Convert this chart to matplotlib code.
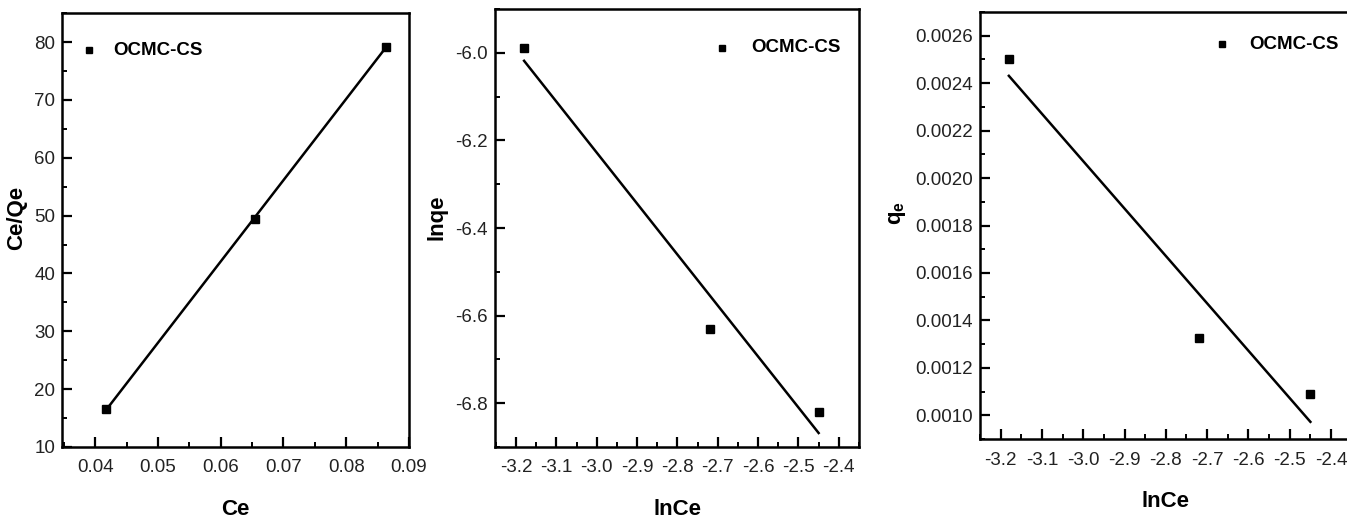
import numpy as np
import matplotlib
matplotlib.use("Agg")
import matplotlib.pyplot as plt
from matplotlib.ticker import MultipleLocator, FormatStrFormatter

# ---- data ----
ce = [0.0417, 0.0655, 0.0863]
ce_qe = [16.5, 49.5, 79.2]

ln_ce = [-3.18, -2.72, -2.45]
ln_qe = [-5.99, -6.63, -6.82]

qe = [0.00250, 0.001325, 0.00109]

series_label = "OCMC-CS"

plt.rcParams['font.family'] = ['Liberation Sans', 'DejaVu Sans']
plt.rcParams['mathtext.fontset'] = 'custom'
plt.rcParams['mathtext.bf'] = 'Liberation Sans:bold'
plt.rcParams['mathtext.rm'] = 'Liberation Sans'

fig = plt.figure(figsize=(13.47, 5.22), dpi=100)

def style(ax):
    for s in ax.spines.values():
        s.set_linewidth(1.8)
    ax.tick_params(which='major', direction='in', length=7, width=1.6,
                   labelsize=13.5, top=False, right=False, labelcolor='#222222')
    ax.tick_params(axis='x', which='major', pad=9)
    ax.tick_params(axis='y', which='major', pad=5)
    ax.tick_params(which='minor', direction='in', length=3.5, width=1.4,
                   top=False, right=False)

def panel(rect, x, y, xlim, ylim, xmaj, ymaj, yfmt, xlabel, ylabel, legpos, xlp, ylab_xy):
    ax = fig.add_axes(rect)
    ax.plot(x, y, 's', color='black', markersize=5.5, zorder=3)
    k, b = np.polyfit(x, y, 1)
    xs = np.array([x[0], x[-1]])
    ax.plot(xs, k * xs + b, '-', color='black', lw=1.8, zorder=2)
    ax.set_xlim(*xlim)
    ax.set_ylim(*ylim)
    ax.xaxis.set_major_locator(MultipleLocator(xmaj))
    ax.xaxis.set_minor_locator(MultipleLocator(xmaj / 2))
    ax.yaxis.set_major_locator(MultipleLocator(ymaj))
    ax.yaxis.set_minor_locator(MultipleLocator(ymaj / 2))
    ax.yaxis.set_major_formatter(FormatStrFormatter(yfmt))
    style(ax)
    ax.set_xlabel(xlabel, fontsize=16, fontweight='bold', labelpad=xlp)
    ax.set_ylabel(ylabel, fontsize=16, fontweight='bold', va='center')
    ax.yaxis.set_label_coords(*ylab_xy)
    lx, ly, tx = legpos
    ax.plot([lx], [ly], 's', color='black', markersize=5, transform=ax.transAxes, clip_on=False)
    ax.text(tx, ly, series_label, transform=ax.transAxes, fontsize=13.5, fontweight='bold',
            va='center', ha='left')
    return ax

ax1 = panel([0.046, 0.1437, 0.2576, 0.831], ce, ce_qe, (0.0347, 0.09), (10, 85),
            0.01, 10, '%d', 'Ce', 'Ce/Qe', (0.078, 0.915, 0.148), 16, (-0.13, 0.528))
ax1.xaxis.set_major_formatter(FormatStrFormatter('%.2f'))

ax2 = panel([0.3675, 0.1437, 0.2702, 0.839], ln_ce, ln_qe, (-3.252, -2.35), (-6.9, -5.9),
            0.1, 0.2, '%.1f', 'lnCe', 'lnqe', (0.625, 0.912, 0.705), 16, (-0.159, 0.525))
ax2.xaxis.set_major_formatter(FormatStrFormatter('%.1f'))

ax3 = panel([0.7275, 0.159, 0.276, 0.818], ln_ce, qe, (-3.25, -2.35), (0.0009, 0.0027),
            0.1, 0.0002, '%.4f', 'lnCe', r'$\mathbf{q_e}$', (0.652, 0.925, 0.725), 16, (-0.223, 0.53))
ax3.xaxis.set_major_formatter(FormatStrFormatter('%.1f'))

fig.savefig("out.png", dpi=100)
